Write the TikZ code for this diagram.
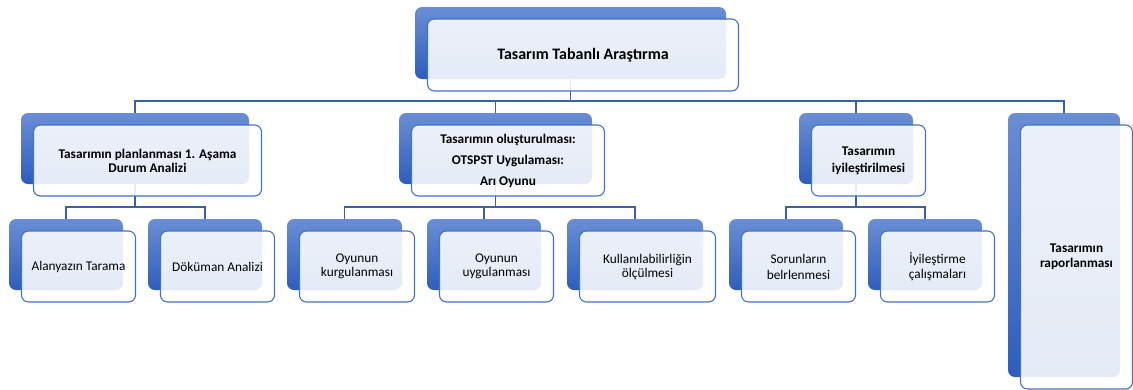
\documentclass[tikz,border=0pt]{standalone}
\usepackage{fontspec}
\setmainfont{Carlito}
\usetikzlibrary{positioning,calc}
\definecolor{shadetop}{HTML}{6A8ED4}
\definecolor{shadebot}{HTML}{2E5DBD}
\definecolor{frameblue}{HTML}{4472C4}
\definecolor{linkblue}{HTML}{3A5FAD}

\begin{document}
\begin{tikzpicture}[
    x=1pt, y=-1pt,
    backbox/.style={rounded corners=7pt, top color=shadetop, bottom color=shadebot,
        inner sep=0pt, outer sep=0pt, minimum height=71pt},
    frontbox/.style={draw=frameblue, line width=1.1pt, rounded corners=7pt,
        fill=white, fill opacity=0.88, text opacity=1, inner sep=0pt, outer sep=0pt,
        minimum height=71pt, align=center, font=\fontsize{13.3}{14}\selectfont},
    stagefont/.style={font=\fontsize{13.3}{14}\selectfont\bfseries},
    rootfont/.style={font=\fontsize{16}{19}\selectfont\bfseries},
    link/.style={draw=linkblue, line width=1.1pt}
]
    \useasboundingbox (0,0) rectangle (1133,389);

    % shaded back plates
    \node[backbox, minimum width=311pt, minimum height=72pt] (root-bg) at (570.5,43) {};
    \node[backbox, minimum width=228pt] (plan-bg) at (135,148.5) {};
    \node[backbox, minimum width=193pt] (olus-bg) at (495.5,148.5) {};
    \node[backbox, minimum width=114pt] (iyi-bg) at (856,148.5) {};
    \node[backbox, minimum width=112pt, minimum height=264pt] (rapor-bg) at (1064,245) {};
    \node[backbox, minimum width=114pt] (tarama-bg) at (66,254.5) {};
    \node[backbox, minimum width=114pt] (dokuman-bg) at (205,254.5) {};
    \node[backbox, minimum width=115pt] (kurgu-bg) at (344.5,254.5) {};
    \node[backbox, minimum width=114pt] (uygula-bg) at (484,254.5) {};
    \node[backbox, minimum width=136pt] (olcum-bg) at (635,254.5) {};
    \node[backbox, minimum width=114pt] (sorun-bg) at (786,254.5) {};
    \node[backbox, minimum width=114pt] (iyiles-bg) at (925,254.5) {};

    % connectors
    \foreach \c in {plan,olus,iyi,rapor}
        \draw[link] (root-bg.south) -- ++(0,22) -| (\c-bg.north);
    \foreach \c in {tarama,dokuman}
        \draw[link] (plan-bg.south) -- ++(0,23) -| (\c-bg.north);
    \foreach \c in {kurgu,uygula,olcum}
        \draw[link] (olus-bg.south) -- ++(0,23) -| (\c-bg.north);
    \foreach \c in {sorun,iyiles}
        \draw[link] (iyi-bg.south) -- ++(0,23) -| (\c-bg.north);

    % front panels with the texts
    \node[frontbox, rootfont, minimum width=311pt, minimum height=72pt] (root)
        at ([xshift=12.5pt,yshift=-12pt]root-bg.center) {Tasarım Tabanlı Araştırma};
    \node[frontbox, stagefont, minimum width=228pt] (plan)
        at ([xshift=12.5pt,yshift=-12pt]plan-bg.center) {Tasarımın planlanması 1. Aşama\\Durum Analizi};
    \node[frontbox, stagefont, minimum width=193pt] (olus)
        at ([xshift=12.5pt,yshift=-12pt]olus-bg.center) {Tasarımın oluşturulması:\\[7pt]OTSPST Uygulaması:\\[7pt]Arı Oyunu};
    \node[frontbox, stagefont, minimum width=114pt] (iyi)
        at ([xshift=12.5pt,yshift=-12pt]iyi-bg.center) {Tasarımın\\[3pt]iyileştirilmesi};
    \node[frontbox, stagefont, minimum width=112pt, minimum height=264pt] (rapor)
        at ([xshift=12.5pt,yshift=-12pt]rapor-bg.center) {Tasarımın\\[1pt]raporlanması};
    \node[frontbox, minimum width=114pt] (tarama)
        at ([xshift=12.5pt,yshift=-12pt]tarama-bg.center) {Alanyazın Tarama};
    \node[frontbox, minimum width=114pt] (dokuman)
        at ([xshift=12.5pt,yshift=-12pt]dokuman-bg.center) {Döküman Analizi};
    \node[frontbox, minimum width=115pt] (kurgu)
        at ([xshift=12.5pt,yshift=-12pt]kurgu-bg.center) {Oyunun\\kurgulanması};
    \node[frontbox, minimum width=114pt] (uygula)
        at ([xshift=12.5pt,yshift=-12pt]uygula-bg.center) {Oyunun\\uygulanması};
    \node[frontbox, minimum width=136pt] (olcum)
        at ([xshift=12.5pt,yshift=-12pt]olcum-bg.center) {Kullanılabilirliğin\\ölçülmesi};
    \node[frontbox, minimum width=114pt] (sorun)
        at ([xshift=12.5pt,yshift=-12pt]sorun-bg.center) {Sorunların\\[2pt]belrlenmesi};
    \node[frontbox, minimum width=114pt] (iyiles)
        at ([xshift=12.5pt,yshift=-12pt]iyiles-bg.center) {İyileştirme\\[1pt]çalışmaları};
\end{tikzpicture}
\end{document}
